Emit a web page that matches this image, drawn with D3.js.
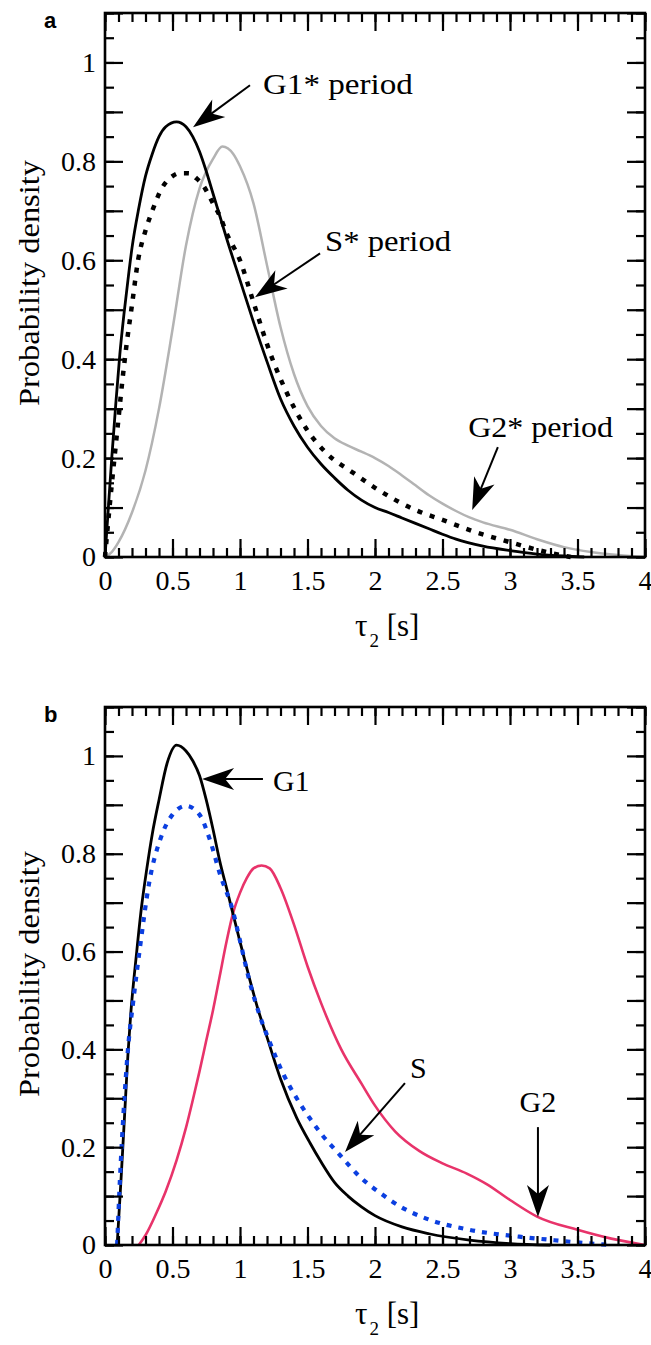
<!DOCTYPE html>
<html lang="en">
<head>
<meta charset="UTF-8">
<title>Probability density of tau2</title>
<style>
  body { margin: 0; background: #fff; }
</style>
</head>
<body>
<div id="chart"></div>
<script src="https://d3js.org/d3.v7.min.js"></script>
<script>
const W = 651, H = 1345;
const SERIF = "'Liberation Serif', 'Times New Roman', Times, serif";
const SANS = "'Liberation Sans', Arial, Helvetica, sans-serif";

// axis ticks
const xTickValues = [0, 0.5, 1, 1.5, 2, 2.5, 3, 3.5, 4];
const xTickLabels = ["0", "0.5", "1", "1.5", "2", "2.5", "3", "3.5", "4"];
const yTickValues = [0, 0.2, 0.4, 0.6, 0.8, 1];
const yTickLabels = ["0", "0.2", "0.4", "0.6", "0.8", "1"];

// panel a : [tau2, density]
const g1Star = [[0,0],[0.02,0.08],[0.05,0.2],[0.08,0.31],[0.11,0.41],[0.14,0.49],[0.17,0.56],[0.2,0.625],
  [0.25,0.705],[0.3,0.77],[0.35,0.815],[0.4,0.85],[0.45,0.87],[0.53,0.88],[0.6,0.87],[0.65,0.85],
  [0.7,0.82],[0.75,0.78],[0.8,0.735],[0.85,0.69],[0.9,0.645],[1.0,0.56],[1.1,0.475],[1.2,0.395],
  [1.3,0.32],[1.4,0.265],[1.5,0.222],[1.6,0.188],[1.7,0.16],[1.8,0.135],[1.9,0.115],[2.0,0.1],
  [2.1,0.09],[2.2,0.079],[2.4,0.057],[2.5,0.046],[2.6,0.036],[2.8,0.022],[3.0,0.013],[3.2,0.006],
  [3.4,0.002],[3.55,0]];
const sStar = [[0,0],[0.03,0.09],[0.07,0.2],[0.1,0.28],[0.13,0.36],[0.16,0.43],[0.2,0.51],[0.245,0.6],
  [0.3,0.66],[0.35,0.7],[0.42,0.745],[0.5,0.77],[0.55,0.776],[0.62,0.776],[0.68,0.765],[0.73,0.75],
  [0.8,0.715],[0.85,0.69],[0.9,0.655],[1.0,0.6],[1.1,0.515],[1.22,0.415],[1.35,0.33],[1.49,0.26],
  [1.64,0.21],[1.84,0.17],[2.0,0.14],[2.3,0.095],[2.5,0.075],[2.75,0.05],[3.0,0.03],[3.27,0.01],[3.45,0]];
const g2Star = [[0,0],[0.05,0.01],[0.1,0.03],[0.2,0.09],[0.3,0.175],[0.4,0.3],[0.5,0.46],[0.6,0.63],
  [0.7,0.745],[0.8,0.805],[0.87,0.83],[0.95,0.815],[1.0,0.79],[1.1,0.715],[1.2,0.59],[1.3,0.465],
  [1.4,0.37],[1.5,0.305],[1.6,0.265],[1.7,0.24],[1.8,0.225],[1.9,0.213],[2.0,0.2],[2.1,0.184],
  [2.2,0.165],[2.3,0.145],[2.4,0.125],[2.5,0.108],[2.6,0.093],[2.7,0.08],[2.8,0.07],[3.0,0.055],
  [3.2,0.036],[3.4,0.02],[3.6,0.01],[3.8,0.004],[4.0,0]];

// panel b
const g1 = [[0.09,0],[0.12,0.14],[0.15,0.29],[0.17,0.39],[0.19,0.47],[0.235,0.6],[0.27,0.69],[0.31,0.77],
  [0.35,0.84],[0.4,0.91],[0.46,0.985],[0.53,1.022],[0.6,1.01],[0.65,0.99],[0.7,0.96],[0.75,0.91],
  [0.8,0.85],[0.85,0.785],[0.9,0.73],[0.95,0.675],[1.0,0.62],[1.07,0.545],[1.13,0.485],[1.2,0.425],
  [1.3,0.34],[1.42,0.26],[1.52,0.208],[1.6,0.17],[1.7,0.128],[1.8,0.1],[1.9,0.078],[2.0,0.06],
  [2.2,0.037],[2.4,0.023],[2.7,0.01],[3.0,0.003],[3.3,0]];
const s = [[0.09,0],[0.11,0.13],[0.135,0.26],[0.17,0.4],[0.21,0.5],[0.26,0.61],[0.33,0.745],[0.41,0.83],
  [0.5,0.88],[0.6,0.898],[0.7,0.88],[0.78,0.826],[0.85,0.76],[0.95,0.68],[1.0,0.622],[1.07,0.54],
  [1.15,0.466],[1.22,0.415],[1.32,0.35],[1.42,0.3],[1.52,0.258],[1.6,0.228],[1.74,0.184],
  [1.89,0.139],[2.04,0.106],[2.21,0.075],[2.38,0.054],[2.7,0.031],[3.07,0.017],[3.32,0.01],
  [3.6,0.003],[3.75,0]];
const g2 = [[0.25,0],[0.3,0.02],[0.38,0.065],[0.45,0.11],[0.53,0.173],[0.6,0.24],[0.65,0.296],[0.7,0.355],
  [0.75,0.418],[0.8,0.48],[0.85,0.55],[0.9,0.62],[0.95,0.68],[1.0,0.72],[1.05,0.75],[1.1,0.77],
  [1.16,0.776],[1.22,0.77],[1.3,0.73],[1.4,0.655],[1.5,0.57],[1.6,0.495],[1.75,0.4],[1.9,0.33],
  [2.0,0.285],[2.15,0.232],[2.33,0.192],[2.5,0.167],[2.68,0.146],[2.83,0.124],[3.0,0.092],[3.2,0.058],
  [3.5,0.031],[3.75,0.013],[4.0,0]];

const svg = d3.select("#chart").append("svg")
  .attr("width", W)
  .attr("height", H);

const left = 105, right = 645;

function arrow(g, x1, y1, x2, y2) {
  // tail (x1,y1) -> tip (x2,y2), pixels
  const ang = Math.atan2(y2 - y1, x2 - x1);
  const len = Math.hypot(x2 - x1, y2 - y1);
  const back = 22;
  g.append("line")
    .attr("x1", x1).attr("y1", y1)
    .attr("x2", x1 + Math.cos(ang) * (len - back))
    .attr("y2", y1 + Math.sin(ang) * (len - back))
    .attr("stroke", "#000").attr("stroke-width", 2);
  g.append("path")
    .attr("d", "M0,0 L-32,-11 L-23,0 L-32,11 Z")
    .attr("fill", "#000")
    .attr("transform", `translate(${x2},${y2}) rotate(${ang * 180 / Math.PI})`);
}

function drawPanel(cfg) {
  const x = d3.scaleLinear().domain([0, 4]).range([left, right]);
  const y = d3.scaleLinear().domain([0, 1.1]).range([cfg.bottom, cfg.top]);
  const g = svg.append("g");

  // curves
  const line = d3.line()
    .x(d => x(d[0]))
    .y(d => y(d[1]))
    .curve(d3.curveMonotoneX);

  cfg.series.forEach(sr => {
    g.append("path")
      .attr("d", line(sr.data))
      .attr("fill", "none")
      .attr("stroke", sr.color)
      .attr("stroke-width", sr.width)
      .attr("stroke-dasharray", sr.dash || null)
      .attr("stroke-linejoin", "round");
  });

  const minorX = d3.range(0, 41).map(i => i / 10);
  const majorY = d3.range(0, 12).map(i => i / 10);
  const minorY = d3.range(0, 23).map(i => i / 20);

  const yLabel = d => {
    const i = yTickValues.findIndex(v => Math.abs(v - d) < 1e-6);
    return i >= 0 ? yTickLabels[i] : "";
  };

  const styleAxis = a => {
    a.attr("font-family", null).attr("font-size", null);
    a.select(".domain").remove();
    a.selectAll("line").attr("stroke", "#000").attr("stroke-width", 2.2);
    a.selectAll("text")
      .style("font-family", SERIF)
      .style("font-size", "28px")
      .attr("fill", "#000");
  };

  // bottom
  g.append("g").attr("transform", `translate(0,${cfg.bottom})`)
    .call(d3.axisBottom(x).tickValues(minorX).tickSize(-9).tickFormat(""))
    .call(styleAxis);
  g.append("g").attr("transform", `translate(0,${cfg.bottom})`)
    .call(d3.axisBottom(x).tickValues(xTickValues).tickSize(-18).tickPadding(13)
      .tickFormat((d, i) => xTickLabels[i]))
    .call(styleAxis);
  // top
  g.append("g").attr("transform", `translate(0,${cfg.top})`)
    .call(d3.axisTop(x).tickValues(minorX).tickSize(-9).tickFormat(""))
    .call(styleAxis);
  g.append("g").attr("transform", `translate(0,${cfg.top})`)
    .call(d3.axisTop(x).tickValues(xTickValues).tickSize(-18).tickFormat(""))
    .call(styleAxis);
  // left
  g.append("g").attr("transform", `translate(${left},0)`)
    .call(d3.axisLeft(y).tickValues(minorY).tickSize(-9).tickFormat(""))
    .call(styleAxis);
  g.append("g").attr("transform", `translate(${left},0)`)
    .call(d3.axisLeft(y).tickValues(majorY).tickSize(-18).tickPadding(9).tickFormat(yLabel))
    .call(styleAxis);
  // right
  g.append("g").attr("transform", `translate(${right},0)`)
    .call(d3.axisRight(y).tickValues(minorY).tickSize(-9).tickFormat(""))
    .call(styleAxis);
  g.append("g").attr("transform", `translate(${right},0)`)
    .call(d3.axisRight(y).tickValues(majorY).tickSize(-18).tickFormat(""))
    .call(styleAxis);

  // frame
  g.append("rect")
    .attr("x", left).attr("y", cfg.top)
    .attr("width", right - left).attr("height", cfg.bottom - cfg.top)
    .attr("fill", "none").attr("stroke", "#000").attr("stroke-width", 2.6);

  // axis titles
  const xt = g.append("text")
    .attr("x", 355).attr("y", cfg.bottom + 79)
    .style("font-family", SERIF)
    .style("font-size", "31px");
  xt.append("tspan").text("τ");
  xt.append("tspan").style("font-size", "19px").attr("dy", 11).attr("dx", 2).text("2");
  xt.append("tspan").attr("dy", -11).text(" [s]");

  g.append("text")
    .attr("transform", `translate(39,${(cfg.top + cfg.bottom) / 2 - 2}) rotate(-90)`)
    .attr("text-anchor", "middle")
    .style("font-family", SERIF)
    .style("font-size", "29px")
    .attr("textLength", 246)
    .attr("lengthAdjust", "spacingAndGlyphs")
    .text("Probability density");

  // panel letter
  g.append("text")
    .attr("x", 44).attr("y", cfg.top + 15)
    .style("font-family", SANS)
    .style("font-weight", "bold")
    .style("font-size", "22px")
    .text(cfg.letter);

  // annotations
  cfg.notes.forEach(n => {
    arrow(g, x(n.tail[0]), y(n.tail[1]), x(n.tip[0]), y(n.tip[1]));
    const t = g.append("text")
      .attr("x", x(n.at[0])).attr("y", y(n.at[1]))
      .style("font-family", SERIF)
      .style("font-size", "30px")
      .attr("text-anchor", n.anchor || "start")
      .text(n.text);
    if (n.len) t.attr("textLength", n.len).attr("lengthAdjust", "spacingAndGlyphs");
  });
}

drawPanel({
  top: 13, bottom: 557, letter: "a",
  series: [
    { data: g2Star, color: "#b3b3b3", width: 2.5 },
    { data: g1Star, color: "#000", width: 2.8 },
    { data: sStar, color: "#000", width: 4.5, dash: "5,8" }
  ],
  notes: [
    { text: "G1* period", tip: [0.652, 0.869], tail: [1.074, 0.954], at: [1.17, 0.937], len: 150 },
    { text: "S* period", tip: [1.111, 0.525], tail: [1.593, 0.614], at: [1.63, 0.618], len: 126 },
    { text: "G2* period", tip: [2.72, 0.095], tail: [2.91, 0.222], at: [2.69, 0.242], len: 145 }
  ]
});

drawPanel({
  top: 707, bottom: 1245, letter: "b",
  series: [
    { data: g2, color: "#e8336a", width: 2.6 },
    { data: g1, color: "#000", width: 2.8 },
    { data: s, color: "#0b3fe0", width: 4.2, dash: "5,7" }
  ],
  notes: [
    { text: "G1", tip: [0.719, 0.953], tail: [1.17, 0.953], at: [1.244, 0.929] },
    { text: "S", tip: [1.778, 0.19], tail: [2.222, 0.331], at: [2.26, 0.341] },
    { text: "G2", tip: [3.207, 0.057], tail: [3.207, 0.241], at: [3.207, 0.271], anchor: "middle" }
  ]
});
</script>
</body>
</html>
